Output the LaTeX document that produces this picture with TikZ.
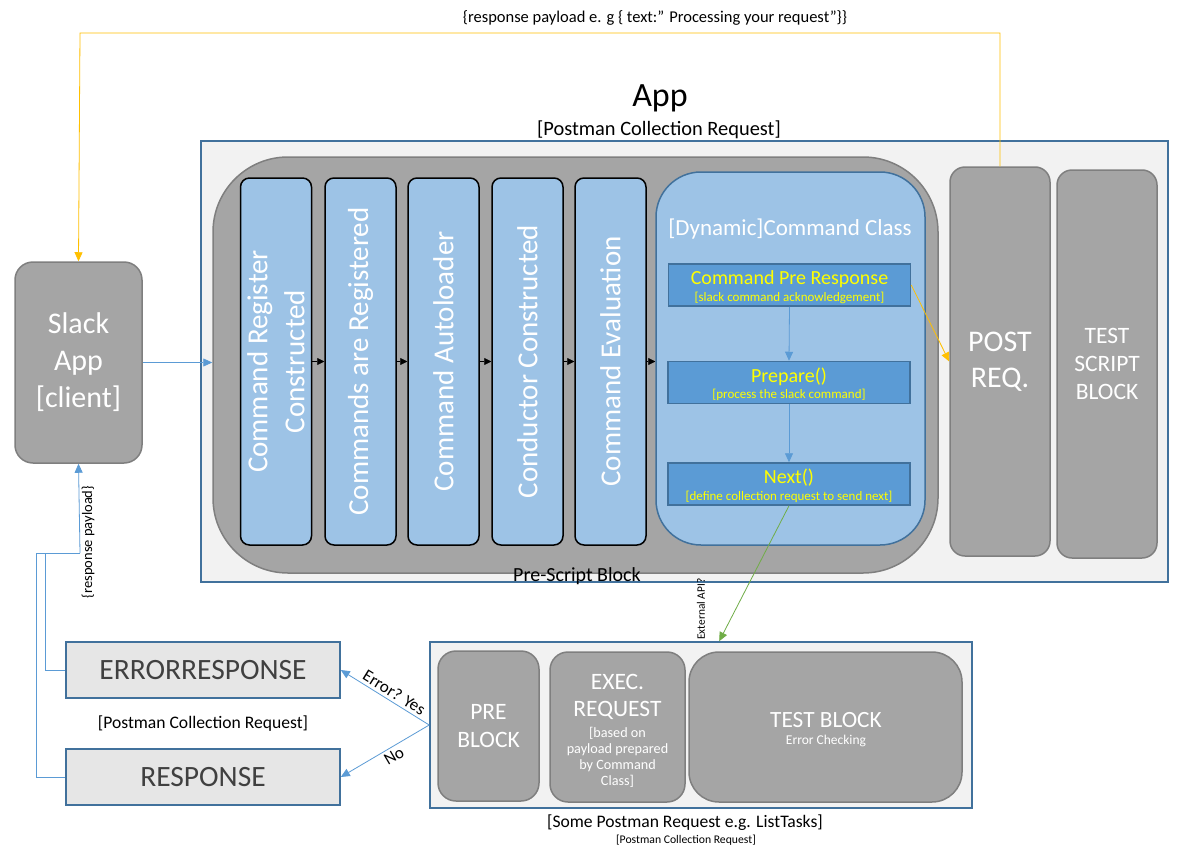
\documentclass[tikz,border=0pt]{standalone}
\usepackage{fontspec}
\setmainfont{Carlito}
\usetikzlibrary{arrows.meta,calc}
\definecolor{bline}{HTML}{41719C}
\definecolor{lblue}{HTML}{9DC3E6}
\definecolor{mblue}{HTML}{5B9BD5}
\definecolor{dgray}{HTML}{A5A5A5}
\definecolor{gborder}{HTML}{7F7F7F}
\definecolor{bgc}{HTML}{F2F2F2}
\definecolor{rfill}{HTML}{E6E6E6}
\definecolor{rtext}{HTML}{404040}
\definecolor{ytext}{HTML}{FFFF00}
\definecolor{oline}{HTML}{FFC000}
\definecolor{gline}{HTML}{70AD47}
\newcommand{\fs}[2]{\fontsize{#1}{#2}\selectfont}
\begin{document}
\begin{tikzpicture}[x=1pt,y=-1pt,
  panel/.style={draw=bline,line width=1.6pt,fill=bgc,minimum width=#1},
  graybox/.style={draw=gborder,line width=1.5pt,fill=dgray,rounded corners=15pt,text=white,align=center},
  colbox/.style={draw=black,line width=1.5pt,fill=lblue,rounded corners=9pt,minimum width=71pt,minimum height=367pt},
  coltext/.style={rotate=90,text=white,align=center,font=\fs{29}{37}},
  innerbox/.style={draw=bline,line width=1.5pt,fill=mblue,minimum width=242pt,minimum height=42pt},
  ititle/.style={text=ytext,font=\fs{20}{22},inner sep=0pt},
  isub/.style={text=ytext,font=\fs{13}{14},inner sep=0pt},
  whitetxt/.style={text=white,align=center,inner sep=0pt},
  respbox/.style={draw=bline,line width=1.6pt,fill=rfill,minimum width=274pt,minimum height=56pt,text=rtext,font=\fs{29.5}{32}},
  blk/.style={-{Triangle[length=7pt,width=7pt]},black,line width=0.6pt},
  blu/.style={-{Triangle[length=9pt,width=8pt]},mblue,line width=0.8pt},
]
\useasboundingbox (0,0) rectangle (1185,864);
\fill[white] (0,0) rectangle (1185,864);

% titles
\node (toptext) at (655,18) {\fs{16.5}{18}\{response payload e. g \{ text:” Processing your request”\}\}};
\node (apptitle) at (660,98) {\fs{34}{38}App};
\node (appsub) at (659,130) {\fs{20.4}{23}[Postman Collection Request]};

% outer app panel
\node[panel=967pt,minimum height=441pt] (app) at (684.5,361.5) {};
\node[draw=gborder,line width=1.5pt,fill=dgray,rounded corners=75pt,minimum width=725pt,minimum height=416pt] (psb) at (575.5,365) {};
\node (psblabel) at (577,576) {\fs{20}{22}Pre-Script Block};

% columns
\node[colbox] (c1) at (276,361.5) {};
\node[colbox] (c2) at (360.5,361.5) {};
\node[colbox] (c3) at (443.5,361.5) {};
\node[colbox] (c4) at (527.5,361.5) {};
\node[colbox] (c5) at (610.5,361.5) {};
\node[coltext] (t1) at (c1) {Command Register\\Constructed};
\node[coltext] (t2) at (c2) {Commands are Registered};
\node[coltext] (t3) at (c3) {Command Autoloader};
\node[coltext] (t4) at (c4) {Conductor Constructed};
\node[coltext] (t5) at (c5) {Command Evaluation};

% dynamic command class
\node[draw=bline,line width=1.5pt,fill=lblue,rounded corners=45pt,minimum width=269pt,minimum height=373pt] (dyn) at (790.5,358.5) {};
\node[text=white] (dyntitle) at (790,229) {\fs{23}{26}[Dynamic]Command Class};
\node[innerbox] (b1) at (789.5,285) {};
\node[ititle] (b1t) at (789.5,279) {Command Pre Response};
\node[isub] (b1s) at (789.5,297.5) {[slack command acknowledgement]};
\node[innerbox] (b2) at (789,382.5) {};
\node[ititle] (b2t) at (789,376.5) {Prepare()};
\node[isub] (b2s) at (789,395) {[process the slack command]};
\node[innerbox] (b3) at (789,484) {};
\node[ititle] (b3t) at (789,478) {Next()};
\node[isub] (b3s) at (789,496.5) {[define collection request to send next]};

% post / test
\node[graybox,minimum width=100pt,minimum height=389pt,font=\fs{30}{36}] (post) at (1000,361.5) {POST\\REQ.};
\node[graybox,minimum width=100pt,minimum height=388pt,font=\fs{23.5}{28}] (test) at (1107,364) {TEST\\SCRIPT\\BLOCK};

% slack
\node[graybox,rounded corners=18pt,minimum width=127pt,minimum height=201pt,font=\fs{30}{37}] (slack) at (78.5,362.5) {Slack\\App\\{[client]}};

% bottom request panel
\node[panel=542pt,minimum height=166pt] (bot) at (701,725) {};
\node[graybox,rounded corners=18pt,minimum width=101pt,minimum height=150pt,font=\fs{23.5}{28}] (pre) at (488.5,726) {PRE\\BLOCK};
\node[graybox,rounded corners=18pt,minimum width=135pt,minimum height=150pt] (exec) at (617.5,727) {};
\node[whitetxt,font=\fs{23.5}{27}] (exect) at (617.5,697) {EXEC.\\REQUEST};
\node[whitetxt,font=\fs{14.2}{16}] (execs) at (617.5,757.5) {[based on\\payload prepared\\by Command\\Class]};
\node[graybox,rounded corners=30pt,minimum width=273pt,minimum height=150pt] (testb) at (825.5,727) {};
\node[whitetxt,font=\fs{23.3}{24}] (testbt) at (826,720) {TEST BLOCK};
\node[whitetxt,font=\fs{13.5}{15}] (testbs) at (826,741) {Error Checking};
\node (botlabel) at (685,823) {\fs{17.6}{20}[Some Postman Request e.g. ListTasks]};
\node (botsub) at (686,840) {\fs{11.7}{13}[Postman Collection Request]};

% responses
\node[respbox] (err) at (203,670) {ERRORRESPONSE};
\node[respbox] (resp) at (203,777) {RESPONSE};
\node (rlabel) at (203,724) {\fs{17.6}{20}[Postman Collection Request]};

% connectors
\draw[blk] (c1.east) -- (c2.west);
\draw[blk] (c2.east) -- (c3.west);
\draw[blk] (c3.east) -- (c4.west);
\draw[blk] (c4.east) -- (c5.west);
\draw[blk] (c5.east) -- (c5.east -| dyn.west);
\draw[blu] (b1.south) -- (b2.north);
\draw[blu] (b2.south) -- (b3.north);
\draw[blu] (slack.east) -- (slack.east -| psb.west);
\draw[-{Triangle[length=9pt,width=8pt]},oline,line width=0.8pt] (b1.east) -- (post.west);
\coordinate (ytop) at (80,33);
\draw[-{Triangle[length=9pt,width=8pt]},oline,line width=0.8pt] (post.north) |- (ytop) -- (slack.north);
\coordinate (gend) at ($(bot.north west)+(290,0)$);
\draw[-{Triangle[length=9pt,width=8pt]},gline,line width=0.8pt] (b3.south) -- (gend);
\node[rotate=90] (extapi) at (701,609) {\fs{11.4}{12}External API?};
\draw[blu] (bot.west) -- (err.east) node[pos=0.45,above,sloped,text=black,inner sep=3pt] (yes) {\fs{17}{18}Error? Yes};
\draw[blu] (bot.west) -- (resp.east) node[pos=0.45,below,sloped,text=black,inner sep=3pt] (no) {\fs{17}{18}No};
\coordinate (j) at (80,553);
\draw[mblue,line width=0.8pt] (err.west) -| (45,553);
\draw[mblue,line width=0.8pt] (resp.west) -| (36,553) -- (j);
\draw[blu] (j) -- (slack.south);
\node[rotate=90] (rpay) at (88,542) {\fs{14.5}{16}\{response payload\}};
\end{tikzpicture}
\end{document}
